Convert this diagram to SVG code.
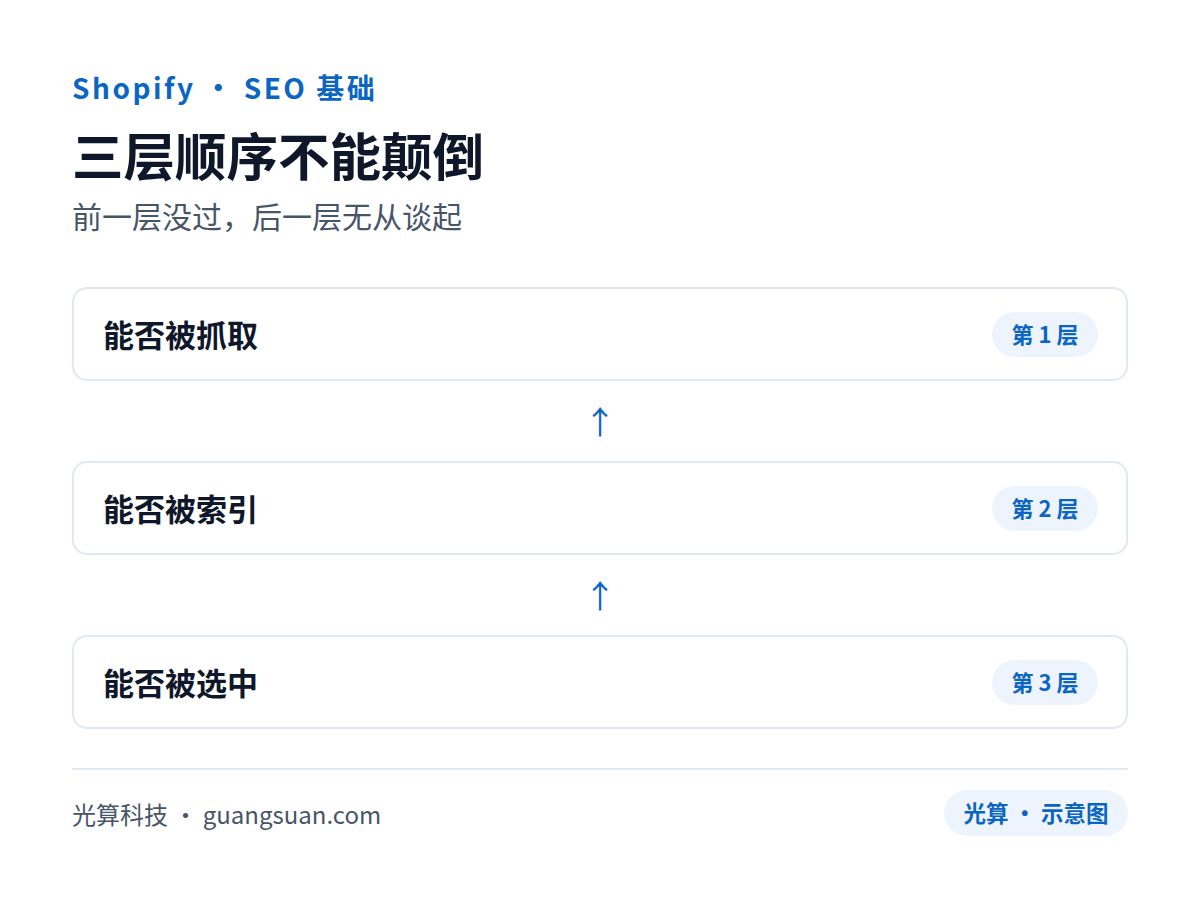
<svg xmlns="http://www.w3.org/2000/svg" width="1200" height="900" viewBox="0 0 1200 900">
<style>
text{font-family:"Noto Sans CJK SC","Noto Sans",sans-serif}
.kicker{font-size:28px;font-weight:700;fill:#0b66c3;letter-spacing:2.5px}
.title{font-size:51.5px;font-weight:700;fill:#0f172a}
.sub{font-size:30px;fill:#475569}
.card{fill:#ffffff;stroke:#e2e8f0;stroke-width:2}
.label{font-size:31px;font-weight:700;fill:#0f172a}
.pill{fill:#eef4fd}
.pilltxt{font-size:22px;font-weight:700;fill:#0b66c3;text-anchor:middle}
.arrow{font-size:32px;fill:#0b66c3;text-anchor:middle}
.foot{font-size:24px;fill:#475569}
</style>
<rect width="1200" height="900" fill="#ffffff"/>
<text class="kicker" x="72" y="99">Shopify · SEO 基础</text>
<text class="title" x="72" y="176">三层顺序不能颠倒</text>
<text class="sub" x="72" y="228">前一层没过，后一层无从谈起</text>
<g id="node1">
<rect class="card" x="73" y="288" width="1054" height="92" rx="14"/>
<text class="label" x="103" y="347">能否被抓取</text>
<rect class="pill" x="992" y="312" width="106" height="45" rx="22.5"/>
<text class="pilltxt" x="1045" y="343">第 1 层</text>
</g>
<g id="node2">
<rect class="card" x="73" y="462" width="1054" height="92" rx="14"/>
<text class="label" x="103" y="521">能否被索引</text>
<rect class="pill" x="992" y="486" width="106" height="45" rx="22.5"/>
<text class="pilltxt" x="1045" y="517">第 2 层</text>
</g>
<g id="node3">
<rect class="card" x="73" y="636" width="1054" height="92" rx="14"/>
<text class="label" x="103" y="695">能否被选中</text>
<rect class="pill" x="992" y="660" width="106" height="45" rx="22.5"/>
<text class="pilltxt" x="1045" y="691">第 3 层</text>
</g>
<g id="connectors">
<text class="arrow" x="600" y="434">↑</text>
<text class="arrow" x="600" y="608">↑</text>
</g>
<line x1="72" y1="769" x2="1128" y2="769" stroke="#e2e8f0" stroke-width="2"/>
<text class="foot" x="72" y="824">光算科技 · guangsuan.com</text>
<g id="footpill">
<rect class="pill" x="944" y="790" width="184" height="46" rx="23"/>
<text class="pilltxt" x="1036" y="822" style="font-size:22.5px">光算 · 示意图</text>
</g>
</svg>
